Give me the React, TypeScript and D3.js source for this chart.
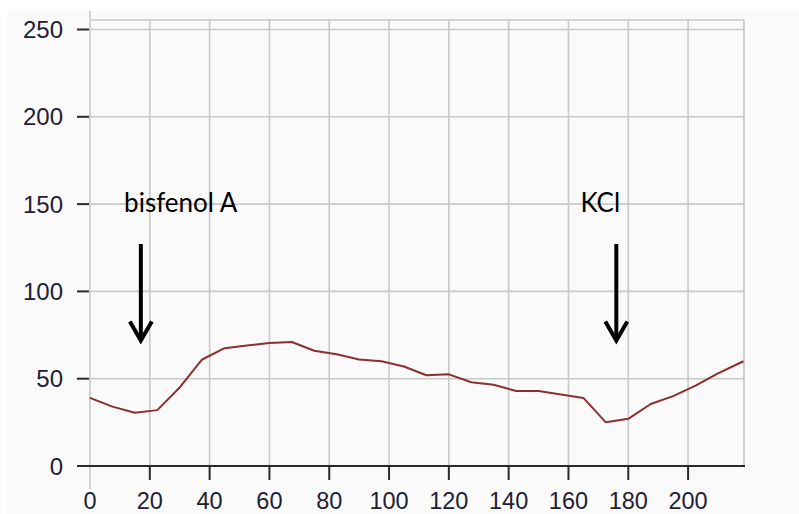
import React from "react";
import * as d3 from "d3";

// Recording time (s) and response values
const times = [0, 7.5, 15, 22.5, 30, 37.5, 45, 52.5, 60, 67.5, 75, 82.5, 90, 97.5, 105, 112.5, 120, 127.5, 135, 142.5, 150, 157.5, 165, 172.5, 180, 187.5, 195, 202.5, 210, 218.5];
const values = [39, 34, 30.5, 32, 45, 61, 67.5, 69, 70.5, 71, 66, 64, 61, 60, 57, 52, 52.5, 48, 46.5, 43, 43, 41, 39, 25, 27, 35.5, 40, 46, 53, 60];
const xTicks = [0, 20, 40, 60, 80, 100, 120, 140, 160, 180, 200];
const yTicks = [0, 50, 100, 150, 200, 250];
const annotations = [
  { label: "bisfenol A", t: 17, textT: 11.4 },
  { label: "KCl", t: 176, textT: 164 },
];

const W = 799;
const H = 514;

export default function App() {
  const x = d3.scaleLinear().domain([0, 218.7]).range([90, 744]);
  const y = d3.scaleLinear().domain([0, 250]).range([466, 29.5]);
  const top = y(255.4);

  const line = d3
    .line<number>()
    .x((_, i) => x(times[i]))
    .y((d) => y(d));

  const labelFont = "'Liberation Sans', Arial, sans-serif";
  const noteFont = "Lato, 'Open Sans', sans-serif";
  const grid = "#c9c9c9";

  return (
    <div style={{ position: "fixed", left: 0, top: 0 }}>
      <svg width={W} height={H} style={{ display: "block" }}>
        <rect x={0} y={0} width={W} height={H} fill="#ffffff" />
        <rect x={7} y={11} width={W - 7} height={H - 11} fill="#fafafa" />

        {/* horizontal grid */}
        {yTicks.map((v) => (
          <line key={"hg" + v} x1={x(0)} x2={x(218.7)} y1={y(v)} y2={y(v)} stroke={grid} strokeWidth={1.6} />
        ))}
        <line x1={x(0)} x2={x(218.7)} y1={top} y2={top} stroke={grid} strokeWidth={1.6} />

        {/* vertical grid */}
        {xTicks.slice(1).map((v) => (
          <line key={"vg" + v} x1={x(v)} x2={x(v)} y1={top} y2={y(0)} stroke={grid} strokeWidth={1.6} />
        ))}
        <line x1={x(0)} x2={x(0)} y1={11} y2={489} stroke={grid} strokeWidth={1.6} />
        <line x1={x(218.7)} x2={x(218.7)} y1={top} y2={y(0)} stroke={grid} strokeWidth={1.8} />

        {/* y ticks and labels */}
        {yTicks.map((v) => (
          <g key={"yt" + v}>
            <line x1={77} x2={89} y1={y(v)} y2={y(v)} stroke="#2a2a2a" strokeWidth={2} />
            <text x={63} y={y(v)} dy="0.36em" textAnchor="end" fontFamily={labelFont} fontSize={24} fill="#1f2035">
              {v}
            </text>
          </g>
        ))}

        {/* x axis */}
        <line x1={77} x2={745} y1={y(0)} y2={y(0)} stroke="#2a2a2a" strokeWidth={2.2} />
        {xTicks.slice(1).map((v) => (
          <line key={"xt" + v} x1={x(v)} x2={x(v)} y1={y(0)} y2={480} stroke="#2a2a2a" strokeWidth={2} />
        ))}
        {xTicks.map((v) => (
          <text key={"xl" + v} x={x(v)} y={509} textAnchor="middle" fontFamily={labelFont} fontSize={23.5} fill="#1f2035">
            {v}
          </text>
        ))}

        {/* response trace */}
        <path d={line(values) ?? ""} fill="none" stroke="#8c2f2f" strokeWidth={2} strokeLinejoin="round" />

        {/* stimulus markers */}
        {annotations.map((a) => {
          const ax = x(a.t);
          const tip = 341.5;
          return (
            <g key={a.label}>
              <text x={x(a.textT)} y={212} fontFamily={noteFont} fontSize={26} fill="#000">
                {a.label}
              </text>
              <line x1={ax} x2={ax} y1={244} y2={tip - 2} stroke="#000" strokeWidth={4} />
              <polyline
                points={`${ax - 11},${tip - 20} ${ax},${tip - 1} ${ax + 11},${tip - 20}`}
                fill="none"
                stroke="#000"
                strokeWidth={4}
              />
            </g>
          );
        })}
      </svg>
    </div>
  );
}
